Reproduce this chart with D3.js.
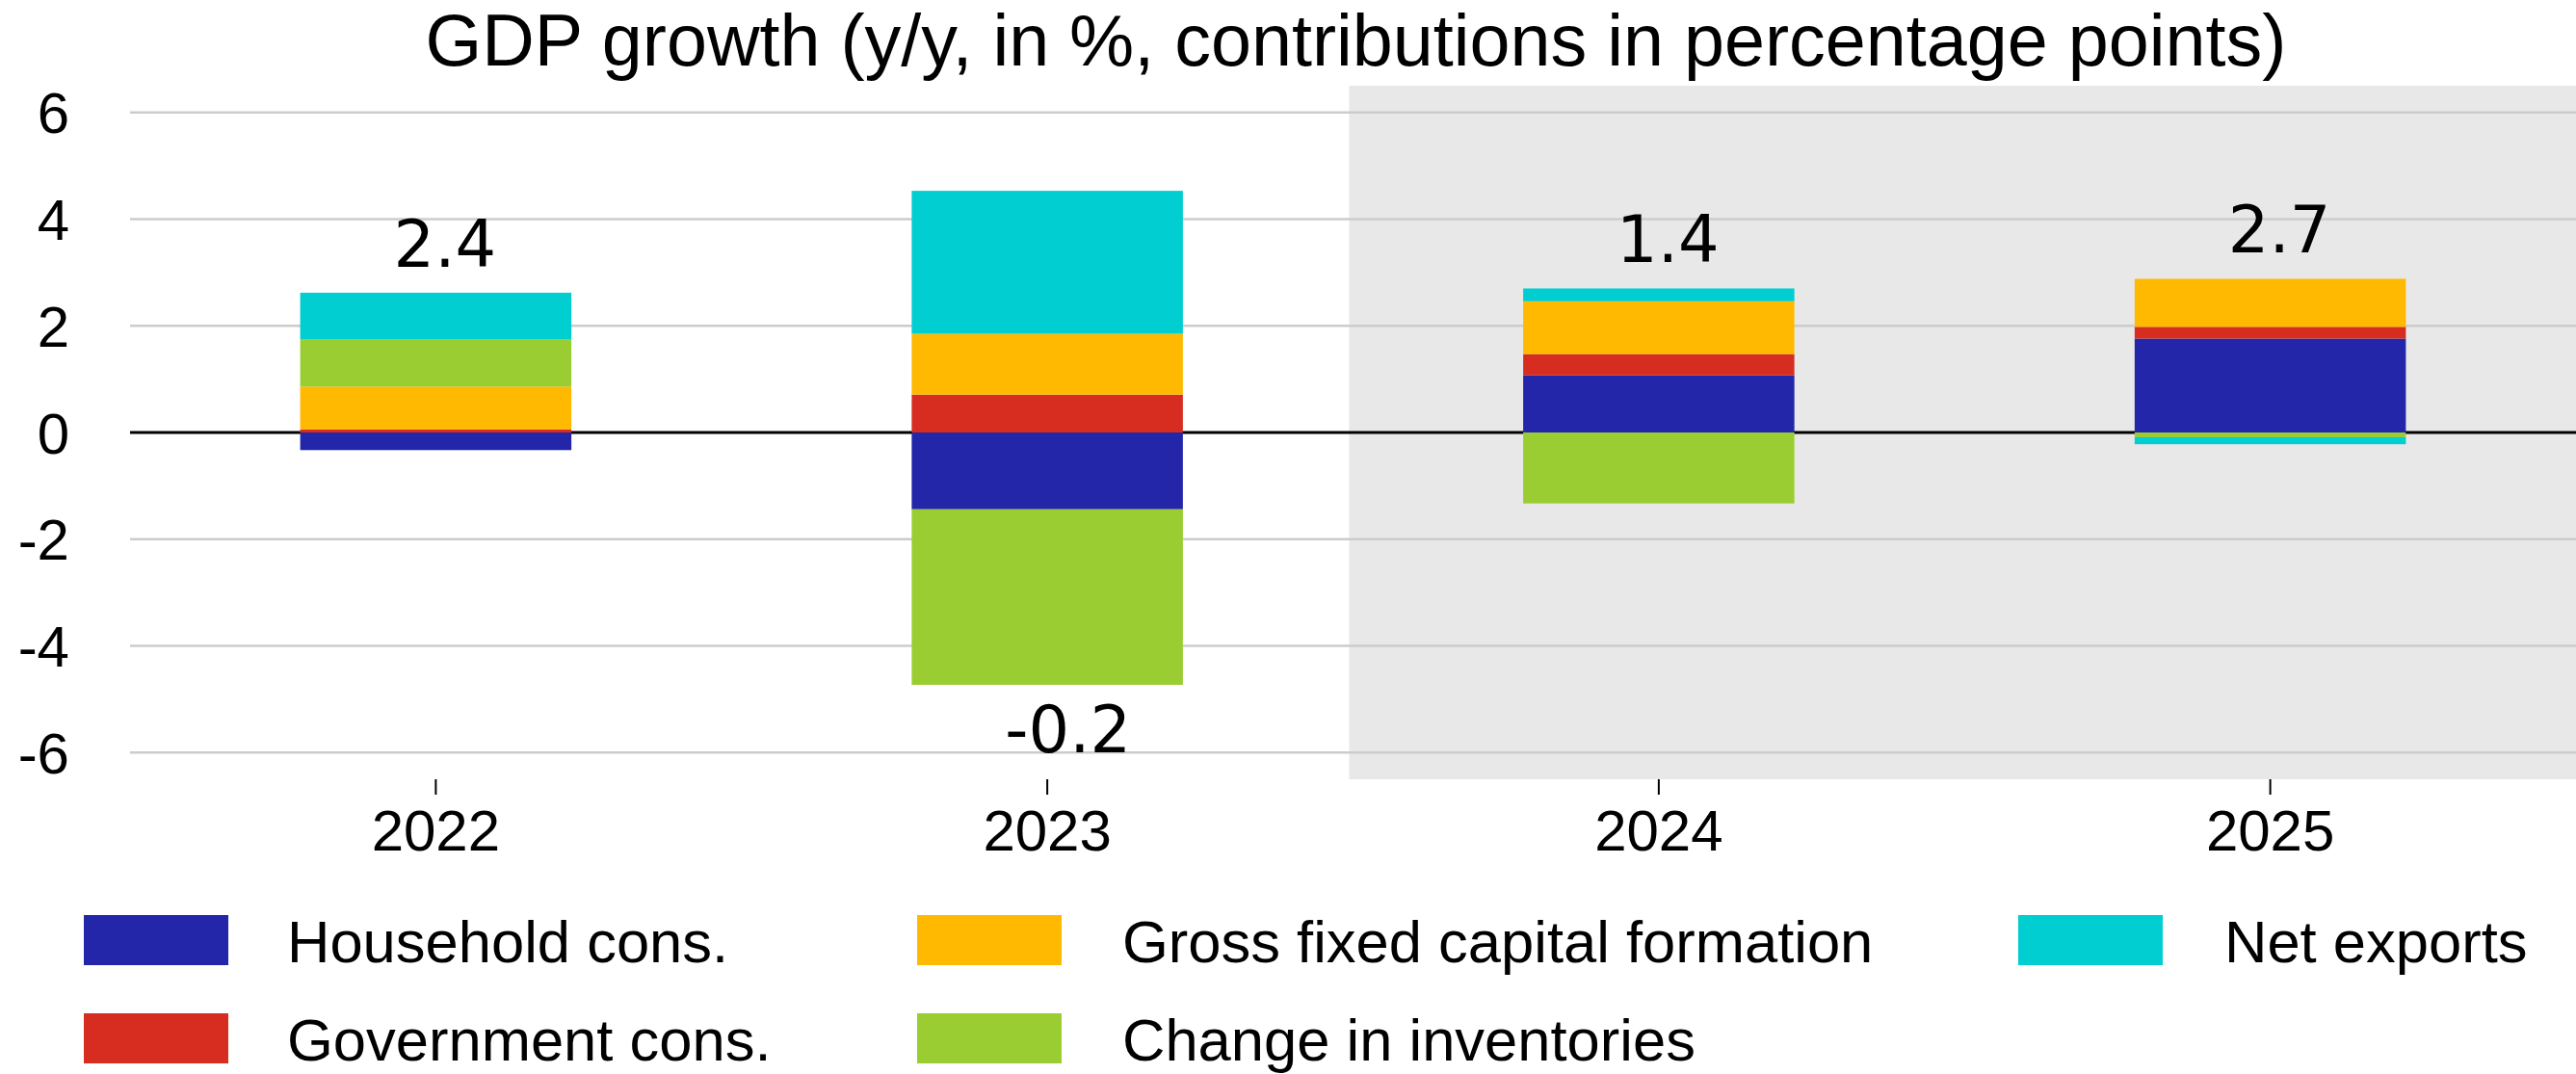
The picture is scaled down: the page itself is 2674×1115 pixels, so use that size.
<!DOCTYPE html>
<html>
<head>
<meta charset="utf-8">
<script src="https://cdn.jsdelivr.net/npm/d3@7"></script>
<style>
  html, body { margin: 0; padding: 0; background: #fff; }
  svg { display: block; }
</style>
</head>
<body>
<svg id="chart" width="2674" height="1115"></svg>
<script>
const categories = ["2022", "2023", "2024", "2025"];
const household   = [-0.33, -1.44, 1.07, 1.76];
const government  = [0.06, 0.71, 0.40, 0.22];
const gfcf        = [0.80, 1.14, 0.99, 0.90];
const inventories = [0.89, -3.29, -1.33, -0.09];
const netExports  = [0.87, 2.68, 0.24, -0.13];
const totalLabels = ["2.4", "-0.2", "1.4", "2.7"];
const yTicks = [-6, -4, -2, 0, 2, 4, 6];
const forecastFrom = "2024";
const title = "GDP growth (y/y, in %, contributions in percentage points)";

const seriesNames = ["Household cons.", "Government cons.", "Gross fixed capital formation", "Change in inventories", "Net exports"];
const seriesValues = [household, government, gfcf, inventories, netExports];
const colors = ["#2326a8", "#d62d20", "#ffb900", "#9acd32", "#00ced1"];

const W = 2674, H = 1115;
const m = { left: 135, right: 0, top: 89, bottom: 306 };
const svg = d3.select("#chart");

const x = d3.scaleBand().domain(categories).range([m.left, W - m.right]).padding(0);
const y = d3.scaleLinear().domain([-6.5, 6.5]).range([H - m.bottom, m.top]);
const barW = x.bandwidth() * 0.4435;
const barX = c => x(c) + (x.bandwidth() - barW) / 2;

// forecast shading
svg.append("rect")
  .attr("x", x(forecastFrom) - 4)
  .attr("y", y(6.5))
  .attr("width", W - m.right - x(forecastFrom) + 4)
  .attr("height", y(-6.5) - y(6.5))
  .attr("fill", "#e8e8e8");

// gridlines
svg.append("g").selectAll("line")
  .data(yTicks.filter(d => d !== 0))
  .join("line")
  .attr("x1", m.left).attr("x2", W - m.right)
  .attr("y1", d => y(d)).attr("y2", d => y(d))
  .attr("stroke", "#cccccc").attr("stroke-width", 2.5);

// y tick labels
svg.append("g").selectAll("text")
  .data(yTicks)
  .join("text")
  .attr("x", 72).attr("y", d => y(d))
  .attr("dy", "0.36em")
  .attr("text-anchor", "end")
  .attr("font-family", "'Liberation Sans', Arial, sans-serif")
  .attr("font-size", 60)
  .attr("fill", "#000")
  .text(d => d);

// zero line
svg.append("line")
  .attr("x1", m.left).attr("x2", W - m.right)
  .attr("y1", y(0)).attr("y2", y(0))
  .attr("stroke", "#000").attr("stroke-width", 3);

// stacked bars
const rows = categories.map((c, i) => {
  const r = { cat: c };
  seriesNames.forEach((s, k) => r[s] = seriesValues[k][i]);
  return r;
});
const stack = d3.stack().keys(seriesNames).offset(d3.stackOffsetDiverging);
const stacked = stack(rows);

svg.append("g").selectAll("g")
  .data(stacked)
  .join("g")
  .attr("fill", (d, i) => colors[i])
  .selectAll("rect")
  .data(d => d)
  .join("rect")
  .attr("x", d => barX(d.data.cat))
  .attr("width", barW)
  .attr("y", d => y(Math.max(d[0], d[1])))
  .attr("height", d => Math.abs(y(d[0]) - y(d[1])));

// total labels
const posTop = categories.map((c, i) => d3.max(stacked, s => Math.max(s[i][0], s[i][1])));
const negBot = categories.map((c, i) => d3.min(stacked, s => Math.min(s[i][0], s[i][1])));
svg.append("g").selectAll("text")
  .data(categories)
  .join("text")
  .attr("x", c => barX(c) + 97)
  .attr("y", (c, i) => parseFloat(totalLabels[i]) >= 0 ? y(posTop[i]) - 27 : y(negBot[i]) + 70)
  .attr("font-family", "'DejaVu Sans', sans-serif")
  .attr("font-size", 67)
  .attr("fill", "#000")
  .text((c, i) => totalLabels[i]);

// x axis ticks and labels
const xg = svg.append("g");
xg.selectAll("line")
  .data(categories)
  .join("line")
  .attr("x1", c => x(c) + x.bandwidth() / 2).attr("x2", c => x(c) + x.bandwidth() / 2)
  .attr("y1", y(-6.5)).attr("y2", y(-6.5) + 16)
  .attr("stroke", "#000").attr("stroke-width", 2);
xg.selectAll("text")
  .data(categories)
  .join("text")
  .attr("x", c => x(c) + x.bandwidth() / 2)
  .attr("y", 883)
  .attr("text-anchor", "middle")
  .attr("font-family", "'Liberation Sans', Arial, sans-serif")
  .attr("font-size", 60)
  .attr("fill", "#000")
  .text(c => c);

// title
svg.append("text")
  .attr("x", (m.left + W - m.right) / 2 + 3)
  .attr("y", 68)
  .attr("text-anchor", "middle")
  .attr("font-family", "'Liberation Sans', Arial, sans-serif")
  .attr("font-size", 75.5)
  .attr("fill", "#000")
  .text(title);

// legend
const legCols = [87, 952, 2095];
const legTextX = [298, 1165, 2309];
const legRows = [950, 1052];
const legPos = [[0, 0], [0, 1], [1, 0], [1, 1], [2, 0]];
const lg = svg.append("g").selectAll("g")
  .data(seriesNames)
  .join("g");
lg.append("rect")
  .attr("x", (d, i) => legCols[legPos[i][0]])
  .attr("y", (d, i) => legRows[legPos[i][1]])
  .attr("width", 150).attr("height", 52)
  .attr("fill", (d, i) => colors[i]);
lg.append("text")
  .attr("x", (d, i) => legTextX[legPos[i][0]])
  .attr("y", (d, i) => legRows[legPos[i][1]] + 49)
  .attr("font-family", "'Liberation Sans', Arial, sans-serif")
  .attr("font-size", 61.5)
  .attr("fill", "#000")
  .text(d => d);
</script>
</body>
</html>
